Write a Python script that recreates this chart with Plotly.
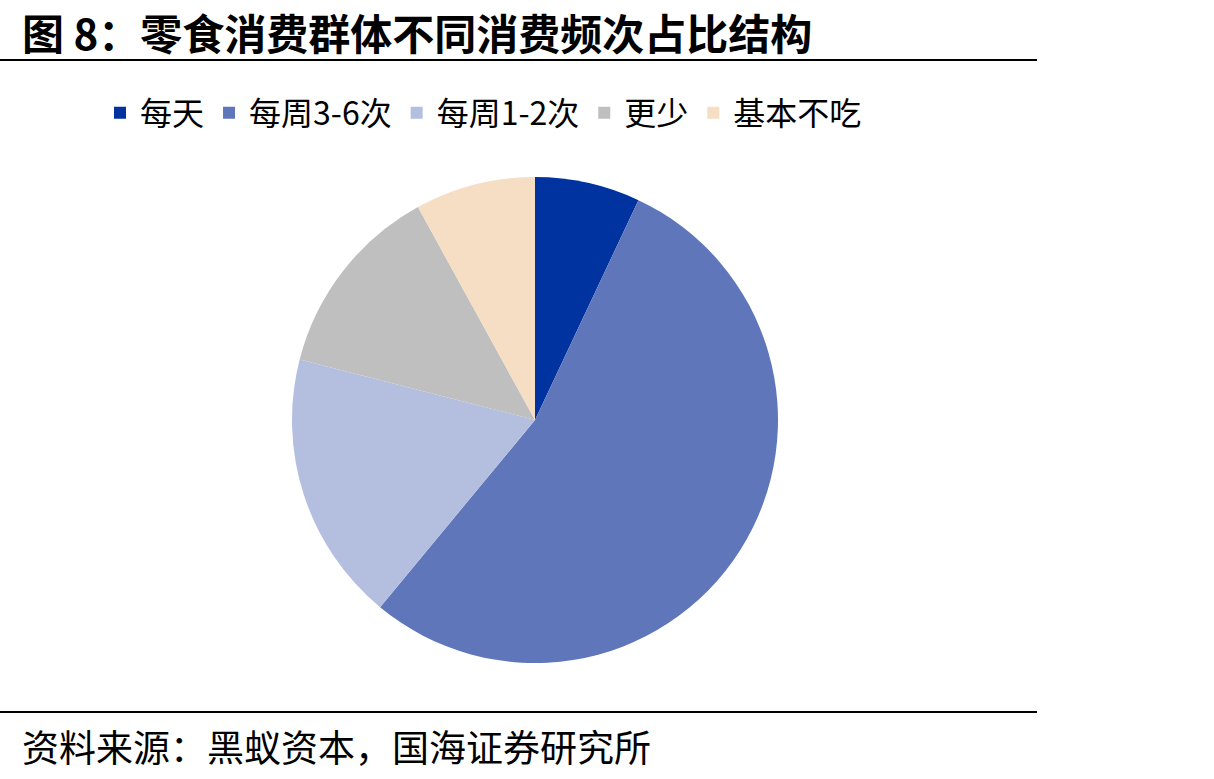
import plotly.graph_objects as go

labels = ["每天", "每周3-6次", "每周1-2次", "更少", "基本不吃"]
values = [7, 54, 18, 13, 8]
colors = ["#0033A0", "#5F77BA", "#B4BFE0", "#BFBFBF", "#F5DEC3"]

W, H = 1214, 779
cx, cy, r = 535, 420, 243

fig = go.Figure(go.Pie(
    labels=labels, values=values, sort=False, direction="clockwise", rotation=0,
    marker=dict(colors=colors, line=dict(width=0)),
    textinfo="none", hoverinfo="label+percent",
    domain=dict(x=[(cx - r) / W, (cx + r) / W], y=[1 - (cy + r) / H, 1 - (cy - r) / H]),
))

fig.update_layout(
    width=W, height=H, margin=dict(l=0, r=0, t=0, b=0),
    paper_bgcolor="white", plot_bgcolor="white",
    font=dict(family="Noto Sans CJK SC", color="black"),
    legend=dict(orientation="h", x=100 / W, xanchor="left", y=1 - 113 / H, yanchor="middle",
                font=dict(size=32, family="Noto Sans CJK SC"), itemwidth=30,
                traceorder="normal"),
    annotations=[
        dict(text="<b>图 8：零食消费群体不同消费频次占比结构</b>", x=20 / W, y=1 - 31 / H,
             xref="paper", yref="paper", xanchor="left", yanchor="middle", showarrow=False,
             font=dict(size=42, family="Noto Sans CJK SC", color="black")),
        dict(text="资料来源：黑蚁资本，国海证券研究所", x=20 / W, y=1 - 746 / H,
             xref="paper", yref="paper", xanchor="left", yanchor="middle", showarrow=False,
             font=dict(size=37, family="Noto Sans CJK SC", color="black")),
    ],
    shapes=[
        dict(type="line", xref="paper", yref="paper", x0=0, x1=1037 / W,
             y0=1 - 60 / H, y1=1 - 60 / H, line=dict(color="black", width=2)),
        dict(type="line", xref="paper", yref="paper", x0=0, x1=1037 / W,
             y0=1 - 712 / H, y1=1 - 712 / H, line=dict(color="black", width=2)),
    ],
)

fig.write_html("out.html")
